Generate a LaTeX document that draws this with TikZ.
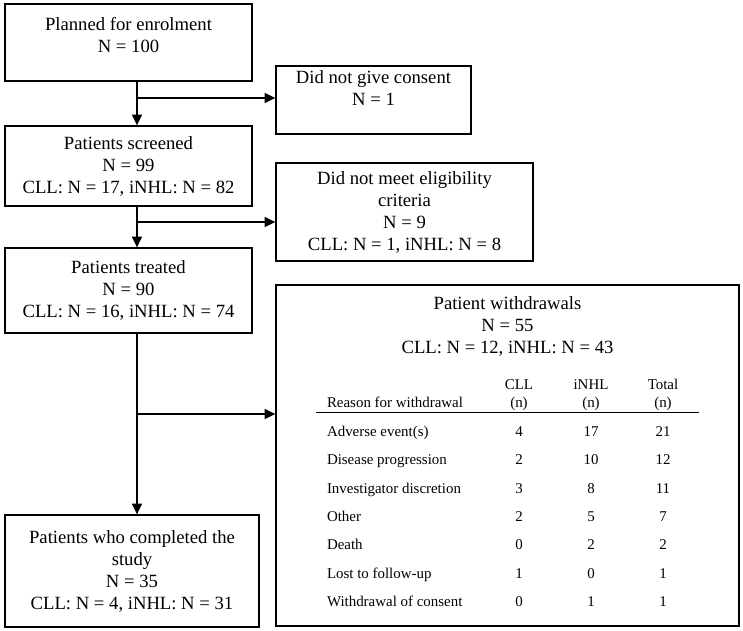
\documentclass[tikz,border=0pt]{standalone}
\usepackage{fontspec}
\setmainfont{Liberation Serif}
\usepackage{array}
\usetikzlibrary{arrows.meta, calc}
\newcommand{\boxfont}{\fontsize{14}{16.5}\selectfont}
\newcommand{\tabfont}{\fontsize{11.2}{13.6}\selectfont}

\begin{document}
\begin{tikzpicture}[x=0.75pt, y=-0.75pt,
    flowbox/.style={draw, line width=1pt, align=center, inner sep=0pt, font=\boxfont},
    flowarrow/.style={line width=1pt, -{Triangle[length=8pt, width=7.5pt]}}]
    \useasboundingbox (0,0) rectangle (743,631);
    \node[flowbox, minimum width=185.25pt, minimum height=57.75pt, text depth=11pt] (plan) at (128.5, 42.5) {
        Planned for enrolment\\N = 100
    };
    \node[flowbox, minimum width=146.25pt, minimum height=51pt, text depth=18pt] (consent) at (373.5, 100) {
        Did not give consent\\N = 1
    };
    \node[flowbox, minimum width=185.25pt, minimum height=60pt] (screen) at (128.5, 166) {
        Patients screened\\N = 99\\CLL: N = 17, iNHL: N = 82
    };
    \node[flowbox, minimum width=192.75pt, minimum height=73.5pt] (inelig) at (404.5, 212) {
        Did not meet eligibility\\criteria\\N = 9\\CLL: N = 1, iNHL: N = 8
    };
    \node[flowbox, minimum width=185.25pt, minimum height=63.75pt] (treat) at (128.5, 290.5) {
        Patients treated\\N = 90\\CLL: N = 16, iNHL: N = 74
    };
    \node[flowbox, minimum width=347.25pt, minimum height=255.75pt] (withdraw) at (507.5, 455.5) {
        Patient withdrawals\\N = 55\\CLL: N = 12, iNHL: N = 43\\[9.5pt]
        {\tabfont\renewcommand{\arraystretch}{1.56}\setlength{\tabcolsep}{0pt}%
        \begin{tabular}[t]{@{\hspace{8.25pt}}>{\raggedright\arraybackslash}p{117pt}*{3}{>{\centering\arraybackslash}p{54pt}}@{}}
            & CLL & iNHL & Total\\[-7.7pt]
            Reason for withdrawal & (n) & (n) & (n)\\[-3.4pt] \hline \noalign{\vspace{3.4pt}}
            Adverse event(s) & 4 & 17 & 21\\
            Disease progression & 2 & 10 & 12\\
            Investigator discretion & 3 & 8 & 11\\
            Other & 2 & 5 & 7\\
            Death & 0 & 2 & 2\\
            Lost to follow-up & 1 & 0 & 1\\
            Withdrawal of consent & 0 & 1 & 1
        \end{tabular}}
    };
    \node[flowbox, minimum width=190.5pt, minimum height=84pt] (complete) at (132, 571) {
        Patients who completed the\\study\\N = 35\\CLL: N = 4, iNHL: N = 31
    };
    % trunk and branch points
    \coordinate (spine) at (137, 0);
    \coordinate (b1) at (137, 98);
    \coordinate (b2) at (137, 222);
    \coordinate (b3) at (137, 414);
    \draw[flowarrow] (plan.south -| spine) -- (screen.north -| spine);
    \draw[flowarrow] (screen.south -| spine) -- (treat.north -| spine);
    \draw[flowarrow] (treat.south -| spine) -- (complete.north -| spine);
    \draw[flowarrow] (b1) -- (b1 -| consent.west);
    \draw[flowarrow] (b2) -- (b2 -| inelig.west);
    \draw[flowarrow] (b3) -- (b3 -| withdraw.west);
\end{tikzpicture}
\end{document}
